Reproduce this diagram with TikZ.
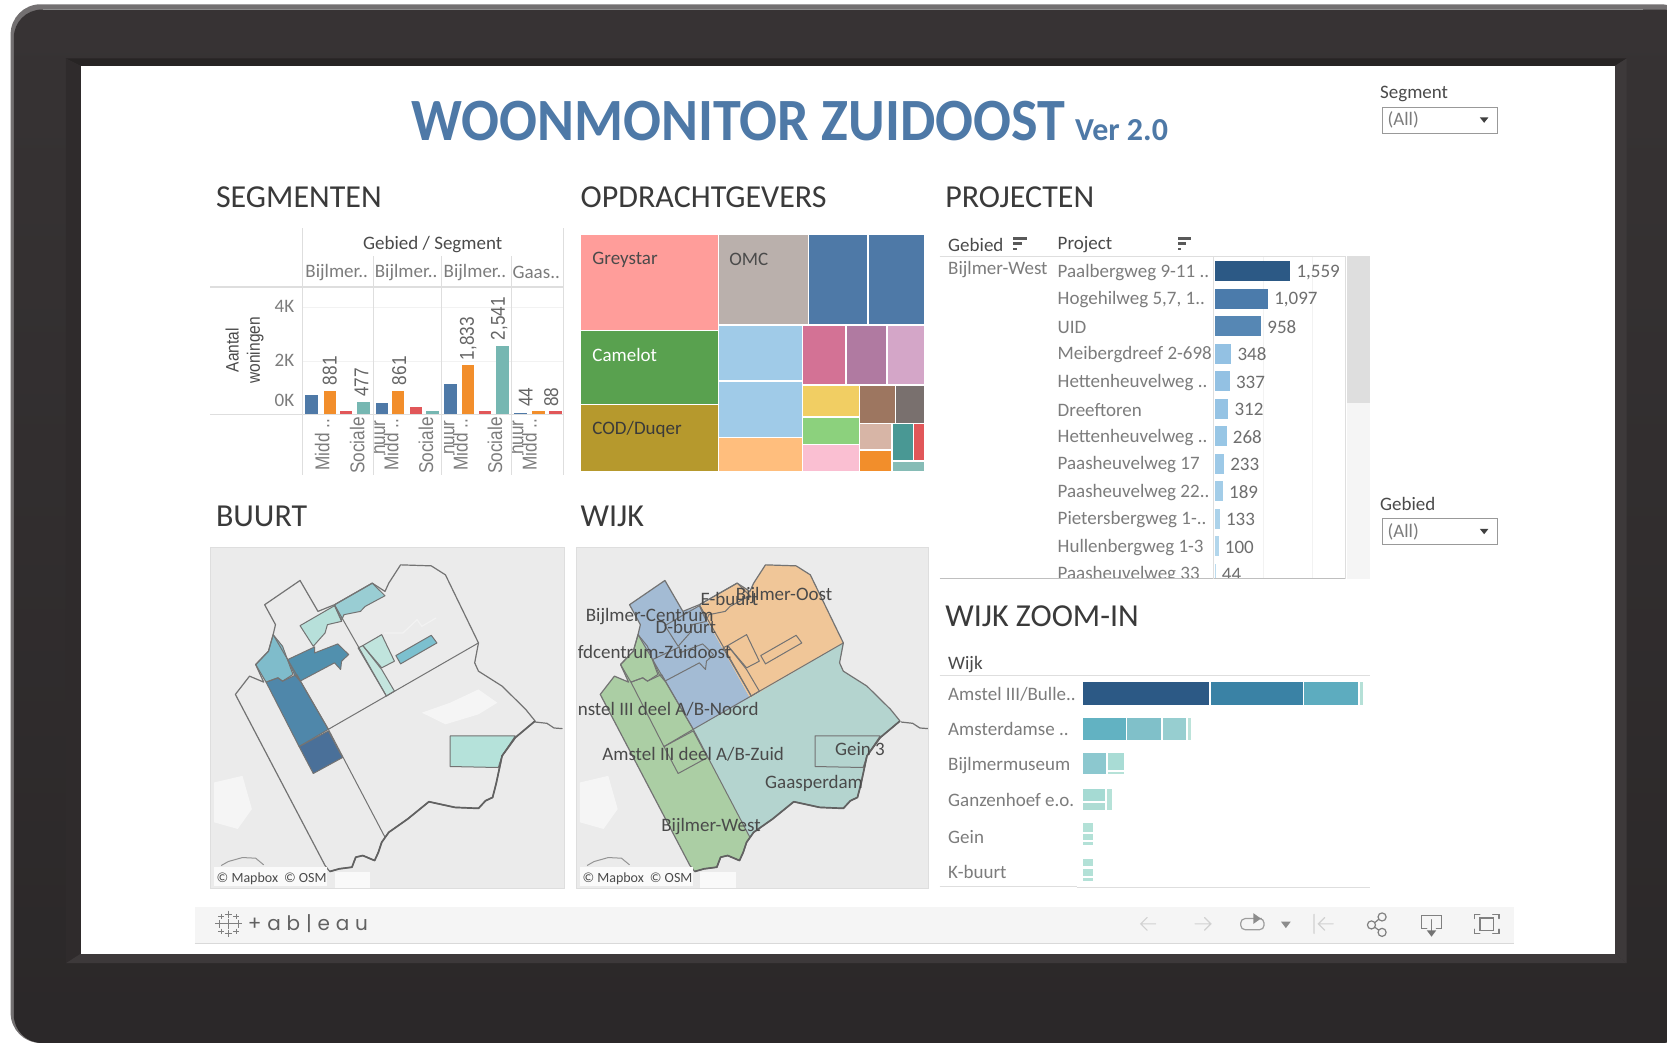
\documentclass[tikz,border=0pt]{standalone}
\usepackage{fontspec}
\setmainfont{Carlito}
\newfontfamily\cond[FakeStretch=.935]{Carlito}
\newfontfamily\arl[FakeStretch=.86]{Liberation Sans}
\newfontfamily\pop{Poppins}
\newcommand\fs[1]{\fontsize{#1}{#1}\selectfont}
\definecolor{frameC}{HTML}{373334}
\definecolor{tblue}{HTML}{4E79A7}
\definecolor{torange}{HTML}{F28E2B}
\definecolor{tred}{HTML}{E15759}
\definecolor{tteal}{HTML}{76B7B2}
\definecolor{txtD}{HTML}{3A3A3A}
\definecolor{txtH}{HTML}{4A4A4A}
\definecolor{txtG}{HTML}{7C7C7C}
\definecolor{lineG}{HTML}{DEDEDE}
\definecolor{mapbg}{HTML}{EBEBEB}
\definecolor{mapln}{HTML}{737373}
\tikzset{
 sect/.style={inner sep=0,anchor=base west,text=txtD,font=\fs{32}},
 lab/.style={inner sep=0,anchor=west,text=txtG,font=\fs{19}},
 hdr/.style={inner sep=0,anchor=west,text=txtH,font=\fs{19}},
 val/.style={inner sep=0,anchor=west,text=txtH!80,font=\fs{19}},
 rot/.style={inner sep=0,rotate=90,text=txtG,font=\arl\fs{20}},
 rotv/.style={inner sep=0,rotate=90,anchor=west,text=txtH!85,font=\arl\fs{20}},
 wlab/.style={inner sep=0,anchor=west,text=txtH,font=\fs{19}},
 piece/.style={draw=mapln,line width=1pt,line join=round},
 icoL/.style={draw=black!18,line width=1.2pt,line cap=round},
 icoD/.style={draw=black!50,line width=1.2pt,line cap=round},
 zA/.style={shift={(188.1,159.9)},x=.472pt,y=-.3338pt},
 zB/.style={shift={(188.1,461)},x=.472pt,y=-.3322pt},
 zC/.style={shift={(874.8,159.9)},x=.3827pt,y=-.3346pt},
 zD/.style={shift={(874.8,554.5)},x=.3827pt,y=-.3331pt}
}
% map geometry, in the coordinates of the left map
\def\outerp{(212,272)--(250,365)--(285,345)--(365,280)--(392,305)--(400,280)--(425,225)--(490,228)--(520,255)--(590,460)--(582,520)--(590,545)--(640,590)--(690,660)--(710,695)--(668,745)--(640,800)--(628,880)--(620,925)--(605,935)--(590,958)--(540,955)--(485,938)--(440,990)--(400,1030)--(385,1060)--(378,1090)--(370,1115)--(345,1100)--(330,1105)--(322,1135)--(295,1140)--(275,1148)--(265,1130)--(75,615)--(105,560)--(135,578)--(118,525)--(145,485)--(155,435)--(160,405)--(137,345)--cycle}
\def\edgep{(710,695)--(668,745)--(640,800)--(628,880)--(620,925)--(605,935)--(590,958)--(540,955)--(485,938)--(440,990)--(400,1030)--(385,1060)--(378,1090)--(370,1115)--(345,1100)--(330,1105)--(322,1135)--(295,1140)--(275,1148)}
\def\pA{(155,435)--(175,470)--(197,555)--(175,575)--(165,565)--(140,578)--(118,525)--(145,485)--cycle}
\def\pB{(186,510)--(243,472)--(243,490)--(292,463)--(315,495)--(300,515)--(298,540)--(285,520)--(212,575)--(200,555)--cycle}
\def\pC{(140,578)--(165,565)--(175,575)--(205,555)--(272,720)--(210,772)--cycle}
\def\pD{(210,772)--(272,725)--(302,805)--(240,853)--cycle}
\def\pE{(212,408)--(285,348)--(300,395)--(270,405)--(265,430)--(240,470)--cycle}
\def\pF{(285,345)--(365,280)--(392,318)--(350,350)--(340,365)--(305,375)--(300,392)--cycle}
\def\pG{(345,468)--(385,435)--(412,515)--(385,535)--cycle}
\def\pH{(335,475)--(345,468)--(385,540)--(412,605)--(395,620)--cycle}
\def\pI{(415,498)--(490,437)--(502,460)--(425,523)--cycle}
\def\pJ{(530,740)--(668,740)--(640,800)--(632,835)--(530,832)--cycle}
\newcommand\mapinner{%
 \draw[piece] (272,720)--(590,460);
 \draw[piece] (155,435)--(272,720)--(392,1045);
 \draw[piece] (285,345)--(395,620);
 \draw[piece] \pA; \draw[piece] \pB; \draw[piece] \pC; \draw[piece] \pD;
 \draw[piece] \pE; \draw[piece] \pF; \draw[piece] \pG; \draw[piece] \pH;
 \draw[piece] \pI; \draw[piece] \pJ;
 \draw[mapln,line width=1.2pt,line join=round] \outerp;
 \draw[black!62,line width=1.7pt,line join=round] \edgep;
}
\newcommand\mapback{%
 \fill[mapbg] (22,172) rectangle (772,1200);
 \fill[black!4] (30,880) -- (90,860) -- (110,960) -- (80,1020) -- (30,1000) -- cycle;
 \fill[black!4] (470,670) -- (530,640) -- (590,600) -- (630,640) -- (590,675) -- (520,705) -- cycle;
 \draw[white!92!black,line width=3pt] (705,180)--(745,300)--(768,470);
 \draw[white!92!black,line width=2pt] (25,275)--(50,255);
 \draw[white!92!black,line width=2pt] (395,178)--(440,220);
 \draw[white!92!black,line width=1.4pt] (285,240)--(310,200)--(290,190);
 \draw[white!92!black,line width=1.4pt] (300,260)--(335,260)--(335,240)--(300,240)--cycle;
 \draw[white!95!black,line width=1.2pt] (390,430)--(430,430)--(460,390)--(470,410)--(500,385);
 \draw[white!92!black,line width=1.2pt] (480,270)--(550,430);
 \draw[white!92!black,line width=1.2pt] (620,420)--(690,340)--(720,420);
 \draw[white!92!black,line width=1.2pt] (130,1060)--(190,1020)--(220,1100);
 \draw[white!92!black,line width=1.2pt] (540,1030)--(610,1160);
 \draw[white!92!black,line width=1.2pt] (670,960)--(740,920)--(700,1000);
 \draw[white!92!black,line width=1.2pt] (225,870)--(290,880)--(320,1000);
 \draw[black!42,line width=1pt] (45,1130)--(60,1118)--(90,1106)--(118,1108)--(135,1128);
 \draw[black!55,line width=1.2pt] (710,698)--(735,702)--(750,716)--(768,718);
 \fill[white!70!mapbg] (285,1150) rectangle (360,1200);
}
\newcommand\attrib[1]{%
 \fill[white!75!mapbg] (30,1133) rectangle (270,1192);
 \node[inner sep=0,anchor=west,text=txtH,font=\fs{14}] (#1) at (35,1170) {© Mapbox\hspace{6pt}© OSM};
}
\begin{document}
\begin{tikzpicture}[x=1.0631pt,y=-1.0631pt]
\useasboundingbox (0,0) rectangle (1568,981);
\fill[white] (0,0) rectangle (1568,981);
% device frame
\begin{scope}
\clip (0,0) rectangle (1568,981);
\fill[frameC!70!white,rounded corners=30pt] (10,4) rectangle (1590,981);
\shade[top color=frameC!100!white,bottom color=black!22!frameC,rounded corners=28pt] (13,9) rectangle (1590,981);
\draw[black!45!white,line width=.6pt] (40,9) -- (1545,9);
\end{scope}
\fill[black!30!frameC] (62,55) -- (1530,55) -- (1519,62) -- (76,62) -- cycle;
\fill[black!15!frameC] (62,55) -- (76,62) -- (76,897) -- (62,906) -- cycle;
\fill[white!3!frameC] (1530,55) -- (1519,62) -- (1519,897) -- (1530,906) -- cycle;
\fill[white!3!frameC] (62,906) -- (76,897) -- (1519,897) -- (1530,906) -- cycle;
\fill[white] (76,62) rectangle (1519,897);
% title
\node[inner sep=0,anchor=base west,text=tblue,font=\cond\bfseries\fs{60}] (title) at (387,132) {WOONMONITOR ZUIDOOST};
\node[inner sep=0,anchor=base west,text=tblue,font=\bfseries\fs{32}] (ver) at (1011,132) {Ver 2.0};
% filters
\node[inner sep=0,anchor=base west,text=txtH,font=\fs{19}] (fseg) at (1298,93) {Segment};
\draw[black!40,line width=.7pt] (1300,101) rectangle (1408,125);
\node[inner sep=0,anchor=west,text=txtG,font=\fs{19}] (fsegv) at (1305,113) {(All)};
\fill[black!75] (1392,110.5) -- (1400,110.5) -- (1396,115.5) -- cycle;
\node[inner sep=0,anchor=base west,text=txtH,font=\fs{19}] (fgeb) at (1298,480) {Gebied};
\draw[black!40,line width=.7pt] (1300,488) rectangle (1408,512);
\node[inner sep=0,anchor=west,text=txtG,font=\fs{19}] (fgebv) at (1305,500) {(All)};
\fill[black!75] (1392,497.5) -- (1400,497.5) -- (1396,502.5) -- cycle;
% section headings
\node[sect] (s1) at (203,195) {SEGMENTEN};
\node[sect] (s2) at (546,195) {OPDRACHTGEVERS};
\node[sect] (s3) at (889,195) {PROJECTEN};
\node[sect] (s4) at (203,495) {BUURT};
\node[sect] (s5) at (546,495) {WIJK};
\node[sect] (s6) at (889,589) {WIJK ZOOM-IN};
% ---------- SEGMENTEN
\begin{scope}[zA]
 \draw[black!5,line width=.7pt] (218,412)--(770,412) (218,573)--(770,573);
 \draw[lineG,line width=.8pt] (218,175)--(218,915) (769,175)--(769,915);
 \draw[lineG,line width=.8pt] (367,258)--(367,915) (512,258)--(512,915) (660,258)--(660,915);
 \draw[lineG,line width=1.6pt] (22,350)--(770,350);
 \foreach \a/\b/\t/\c in {222/250/674/tblue,262/288/661/torange,296/323/723/tred,333/360/694/tteal,
   372/398/698/tblue,407/433/661/torange,445/471/711/tred,479/506/723/tteal,
   518/544/641/tblue,555/581/583/torange,591/617/723/tred,628/655/526/tteal,
   665/692/727/tblue,703/731/723/torange,740/766/723/tred}
   \fill[\c] (\a,732) rectangle (\b,\t);
 \draw[lineG,line width=1.2pt] (22,732)--(770,732);
 \node[inner sep=0,text=txtH,font=\fs{19}] (gs) at (493,223) {Gebied / Segment};
 \foreach \x/\t/\n in {223/Bijlmer../g1,370/Bijlmer../g2,516/Bijlmer../g3,662/Gaas../g4}
   \node[lab] (\n) at (\x,307) {\t};
 \node[inner sep=0,anchor=east,text=txtG,font=\fs{19}] (y4) at (200,408) {4K};
 \node[inner sep=0,anchor=east,text=txtG,font=\fs{19}] (y2) at (200,570) {2K};
 \node[inner sep=0,anchor=east,text=txtG,font=\fs{19}] (y0) at (200,690) {0K};
 \node[rot,text=txtH,font=\arl\fs{18}] (ya) at (68,540) {Aantal};
 \node[rot,text=txtH,font=\arl\fs{18}] (yb) at (117,540) {woningen};
 \foreach \x/\b/\t/\n in {275/645/881/v1,342/680/477/v2,422/645/861/v3,568/570/{1,833}/v4,634/510/{2,541}/v5,690/710/44/v6,744/710/88/v7}
   \node[rotv] (\n) at (\x,\b) {\t};
 \foreach \x/\n in {259/m1,405/m2,552/m3,698/m4}
   \node[rot,anchor=east] (\n) at (\x,745) {Midd ..};
 \foreach \x/\n in {333/c1,479/c2,625/c3}
   \node[rot,anchor=east] (\n) at (\x,740) {Sociale};
 \foreach \x/\n in {367/h2,514/h3,660/h4}{
   \begin{scope}
   \clip (\x+3,735) rectangle (\x+30,860);
   \node[rot,anchor=base east] (\n) at (\x+25,750) {huur};
   \end{scope}
 }
 % treemap
 \foreach \a/\b/\c/\d/\f in {808/1098/195/480/FF9D9A,808/1098/483/702/59A14F,808/1098/705/902/B6992D,
   1100/1288/195/462/BAB0AC,1291/1414/195/462/4E79A7,1417/1533/195/462/4E79A7,
   1100/1275/467/630/A0CBE8,1100/1275/634/800/A0CBE8,1100/1275/803/902/FFBE7D,
   1278/1367/467/642/D37295,1370/1454/467/642/B07AA1,1457/1533/467/642/D4A6C8,
   1278/1396/647/738/F1CE63,1278/1396/742/820/8CD17D,1278/1396/825/902/FABFD2,
   1399/1472/647/757/9D7660,1475/1533/647/757/79706E,
   1399/1465/762/837/D7B5A6,1468/1510/762/869/499894,1513/1533/762/869/E15759,
   1399/1465/841/902/F28E2B,1468/1533/874/902/86BCB6}{
   \definecolor{tmc}{HTML}{\f}
   \fill[tmc] (\a,\c) rectangle (\b,\d);
 }
 \node[inner sep=0,anchor=west,text=txtH,font=\fs{19}] (tg) at (831,270) {Greystar};
 \node[inner sep=0,anchor=west,text=white,font=\fs{19}] (tc) at (831,553) {Camelot};
 \node[inner sep=0,anchor=west,text=txtD,font=\fs{19}] (td) at (831,777) {COD/Duqer};
 \node[inner sep=0,anchor=west,text=txtH,font=\fs{19}] (to) at (1121,267) {OMC};
\end{scope}
% ---------- BUURT map
\begin{scope}[zB]
 \begin{scope}
 \clip (22,172) rectangle (772,1200);
 \mapback
 \definecolor{c1}{HTML}{7FBCCB}\definecolor{c2}{HTML}{5190AE}\definecolor{c3}{HTML}{4F87AA}
 \definecolor{c4}{HTML}{4A7099}\definecolor{c5}{HTML}{B7E0DA}\definecolor{c6}{HTML}{99CDD3}
 \definecolor{c7}{HTML}{C0E4DD}\definecolor{c8}{HTML}{C4E5DE}\definecolor{c9}{HTML}{7CC0CF}\definecolor{c0}{HTML}{B5E2DA}
 \fill[c1] \pA; \fill[c2] \pB; \fill[c3] \pC; \fill[c4] \pD; \fill[c5] \pE;
 \fill[c6] \pF; \fill[c7] \pG; \fill[c8] \pH; \fill[c9] \pI; \fill[c0] \pJ;
 \mapinner
 \attrib{attrA}
 \end{scope}
 \draw[lineG,line width=.7pt] (22,172) rectangle (772,1200);
 % ---------- WIJK map
 \begin{scope}[shift={(775,0)}]
 \clip (22,172) rectangle (768,1200);
 \mapback
 \definecolor{wO}{HTML}{F0C698}\definecolor{wB}{HTML}{A3BBD4}\definecolor{wG}{HTML}{ABCEA4}\definecolor{wT}{HTML}{B4D4CF}
 \fill[wT] (588,460)--(580,520)--(588,545)--(638,590)--(688,660)--(708,695)--(666,745)--(638,800)--(626,880)--(618,925)--(603,935)--(588,958)--(538,955)--(483,938)--(438,990)--(398,1030)--(390,1045)--(270,720)--(390,625)--cycle;
 \fill[wG] (153,435)--(143,485)--(116,525)--(133,578)--(103,560)--(73,615)--(263,1130)--(273,1148)--(293,1140)--(320,1135)--(328,1105)--(343,1100)--(368,1115)--(376,1090)--(383,1060)--(390,1045)--(270,720)--cycle;
 \fill[wB] (210,272)--(135,345)--(158,405)--(153,435)--(270,720)--(390,625)--(283,350)--(248,365)--cycle;
 \fill[wO] (283,350)--(363,280)--(390,305)--(398,280)--(423,225)--(488,228)--(518,255)--(588,460)--(390,625)--cycle;
 \begin{scope}[shift={(-2,0)}]
 \mapinner
 \end{scope}
 \attrib{attrB}
 \node[wlab] (w1) at (285,328) {E-buurt};
 \node[wlab] (w2) at (360,318) {Bijlmer-Oost};
 \node[wlab] (w3) at (42,382) {Bijlmer-Centrum};
 \node[wlab] (w4) at (190,413) {D-buurt};
 \node[wlab] (w5) at (25,488) {fdcentrum-Zuidoost};
 \node[wlab] (w6) at (25,660) {nstel III deel A/B-Noord};
 \node[wlab] (w7) at (77,795) {Amstel III deel A/B-Zuid};
 \node[wlab] (w8) at (422,882) {Gaasperdam};
 \node[wlab] (w9) at (570,778) {Gein 3};
 \node[wlab] (w10) at (202,1012) {Bijlmer-West};
 \end{scope}
 \draw[lineG,line width=.7pt] (797,172) rectangle (1543,1200);
\end{scope}
% ---------- PROJECTEN
\begin{scope}[zC]
 \fill[black!4] (1090,258) rectangle (1150,1221);
 \fill[black!13] (1090,258) rectangle (1150,695);
 \draw[black!5,line width=.6pt] (870,258)--(870,1221) (1000,258)--(1000,1221);
 \node[hdr] (h1) at (47,224) {Gebied};
 \node[hdr] (h2a) at (333,224) {Project};
 \foreach \x in {218,647}{
  \fill[black!65] (\x,200) rectangle (\x+35,208);
  \fill[black!65] (\x,216) rectangle (\x+21,224);
  \fill[black!65] (\x,232) rectangle (\x+9,240);
 }
 \node[lab] (bw) at (47,298) {Bijlmer-West};
 \begin{scope}
 \clip (0,258) rectangle (1085,1221);
 \foreach \i/\t/\w/\v/\c in {
  0/Paalbergweg 9-11 ../941/{1,559}/2C5985,
  1/{Hogehilweg 5,7, 1..}/883/{1,097}/4B7BAB,
  2/UID/865/958/5687B4,
  3/Meibergdreef 2-698/787/348/93C1E3,
  4/Hettenheuvelweg ../783/337/93C1E3,
  5/Dreeftoren/779/312/95C3E4,
  6/Hettenheuvelweg ../775/268/98C6E5,
  7/Paasheuvelweg 17/768/233/9DC9E7,
  8/Paasheuvelweg 22../765/189/A3CDE8,
  9/Pietersbergweg 1-../757/133/ABD2EA,
  10/Hullenbergweg 1-3/754/100/B2D6EC,
  11/Paasheuvelweg 33/746/44/BBDBEE}{
  \pgfmathsetmacro\yy{302+82.2*\i}
  \definecolor{pc}{HTML}{\c}
  \fill[pc] (744,\yy-30) rectangle (\w,\yy+30);
  \node[lab] (pl\i) at (333,\yy+3) {\t};
  \node[val] (pv\i) at (\w+16,\yy+3) {\v};
 }
 \end{scope}
 \draw[lineG,line width=.8pt] (25,258)--(1085,258);
 \draw[black!25,line width=.7pt] (25,1221)--(1085,1221);
 \draw[lineG,line width=.8pt] (741,258)--(741,1221) (1085,258)--(1085,1221);
\end{scope}
% ---------- WIJK ZOOM-IN
\begin{scope}[zD]
 \node[hdr] (hw) at (47,226) {Wijk};
 \draw[lineG,line width=1pt] (25,258)--(1150,258);
 \draw[lineG,line width=1pt] (25,893)--(383,893) (383,896)--(1150,896);
 \foreach \y/\t/\n in {314/{Amstel III/Bulle..}/a1,419/Amsterdamse ../a2,528/Bijlmermuseum/a3,633/Ganzenhoef e.o./a4,742/Gein/a5,847/K-buurt/a6}
  \node[lab] (\n) at (47,\y) {\t};
 \foreach \a/\b/\c/\d/\f in {400/730/278/346/2C5985,734/974/278/346/3A82A5,978/1119/278/346/5DACBF,1123/1132/278/346/B5E0D7,
  400/511/385/453/62B2C2,515/604/385/453/80C0C9,608/669/385/453/97CED0,673/683/385/453/BCE3DA,
  400/460/491/555/8CC8CF,465/508/491/542/A9DCD5,465/508/547/555/B6E2D8,
  400/457/598/634/A5DAD3,400/457/641/662/AEDCD4,462/475/598/662/B6E2D8,
  400/425/702/728/B3E1D7,400/425/735/753/B3E1D7,400/425/759/768/B3E1D7,
  400/425/808/831/B3E1D7,400/425/838/860/B3E1D7,400/425/866/876/B3E1D7}{
  \definecolor{zc}{HTML}{\f}
  \fill[zc] (\a,\c) rectangle (\b,\d);
 }
\end{scope}
% ---------- toolbar
\fill[black!4] (183,853) rectangle (1424,887);
\draw[black!15,line width=.7pt] (183,887)--(1424,887);
\foreach \p/\q/\r in {215/869/5,215/860/3.5,215/878/3.5,206/869/3.5,224/869/3.5,208/862/2.5,222/862/2.5,208/876/2.5,222/876/2.5}
 \draw[black!50,line width=.9pt] (\p-\r,\q)--(\p+\r,\q) (\p,\q-\r)--(\p,\q+\r);
\node[inner sep=0,anchor=west,text=black!62,font=\pop\fs{20}] (logo) at (233,869) {\spaceskip=5.8pt + a b | e a u};
\draw[icoL] (1087,869)--(1073,869) (1079,863)--(1073,869)--(1079,875);
\draw[icoL] (1124,869)--(1139,869) (1133,863)--(1139,869)--(1133,875);
\draw[black!38,line width=1.2pt,rounded corners=4.5pt] (1180,864)--(1167,864)--(1167,874.5)--(1189,874.5)--(1189,864)--(1187,864);
\fill[black!45] (1179,859)--(1186,864)--(1179,869)--cycle;
\fill[black!45] (1205,867)--(1214,867)--(1209.5,873)--cycle;
\draw[icoL] (1236,860)--(1236,878) (1254,869)--(1240,869) (1246,863)--(1240,869)--(1246,875);
\draw[icoD] (1290,870) circle (3.8) (1300,862.5) circle (3.8) (1300,877) circle (3.8) (1293,868)--(1297,864.5) (1293,872)--(1297,875);
\draw[icoD] (1342,873)--(1337,873)--(1337,861)--(1356,861)--(1356,873)--(1351,873) (1346.5,865)--(1346.5,876);
\fill[black!55] (1342,875)--(1351,875)--(1346.5,881)--cycle;
\draw[icoD] (1392,863.5) rectangle (1405,875);
\draw[icoD] (1387,864)--(1387,860)--(1392,860) (1404,860)--(1410,860)--(1410,864) (1387,874)--(1387,878)--(1392,878) (1404,878)--(1410,878)--(1410,874);
\end{tikzpicture}
\end{document}
